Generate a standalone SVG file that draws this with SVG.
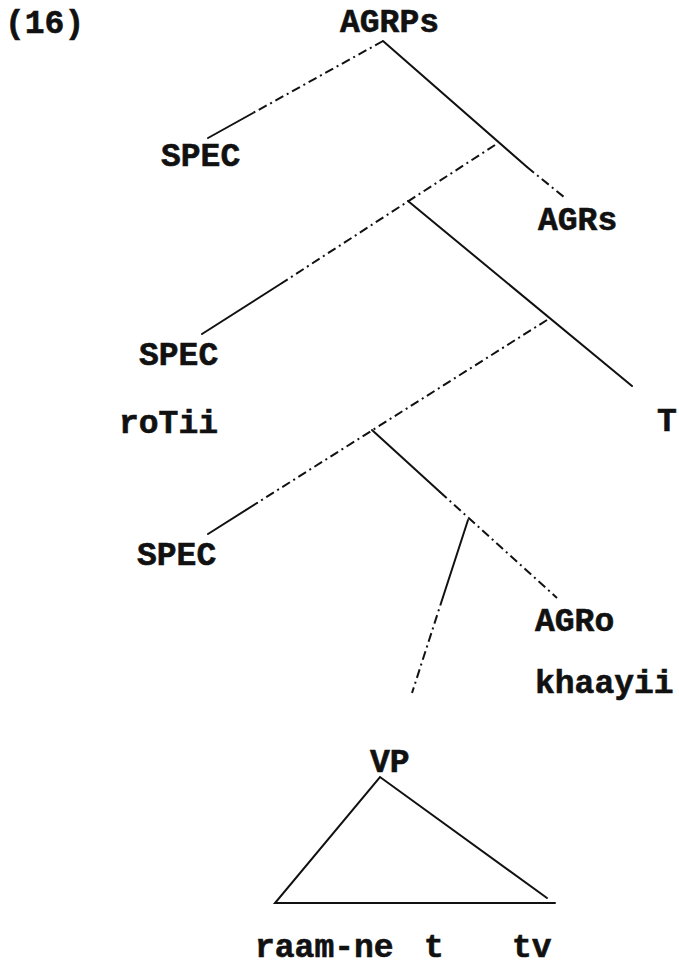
<svg xmlns="http://www.w3.org/2000/svg" width="679" height="967" viewBox="0 0 679 967">
  <style>
    .lbl { font-family: "Liberation Mono", "DejaVu Sans Mono", monospace; font-weight: bold; font-size: 33px; fill: #111; stroke: #111; stroke-width: 0.6; }
    .edge { stroke: #111; stroke-width: 2; fill: none; stroke-linecap: round; }
    .broken { stroke: #111; stroke-width: 2; fill: none; stroke-dasharray: 9 4 2 4; }
  </style>
  <rect width="679" height="967" fill="#fff"/>

  <!-- example number -->
  <text class="lbl" x="5" y="33">(16)</text>

  <!-- tree branches -->
  <g id="connectors">
    <!-- AGRPs -> SPEC -->
    <line class="broken" x1="383" y1="41" x2="253" y2="113"/>
    <line class="edge" x1="253" y1="113" x2="208" y2="138"/>
    <!-- AGRPs -> AGRs -->
    <line class="edge" x1="383" y1="41" x2="527" y2="167"/>
    <line class="broken" x1="527" y1="167" x2="564" y2="197"/>
    <!-- AGRs' -> SPEC (second level) -->
    <line class="broken" x1="495" y1="145" x2="282" y2="283"/>
    <line class="edge" x1="282" y1="283" x2="202" y2="334"/>
    <!-- TP node -> T -->
    <line class="edge" x1="408" y1="201" x2="632" y2="386"/>
    <!-- T' -> SPEC (third level) -->
    <line class="broken" x1="547" y1="320" x2="257" y2="503"/>
    <line class="edge" x1="257" y1="503" x2="208" y2="534"/>
    <!-- AGRoP node -> AGRo -->
    <line class="edge" x1="372" y1="430" x2="440" y2="492"/>
    <line class="broken" x1="440" y1="492" x2="557" y2="598"/>
    <!-- AGRo' -> VP -->
    <line class="edge" x1="468" y1="520" x2="443" y2="597"/>
    <line class="broken" x1="443" y1="597" x2="412" y2="693"/>
  </g>

  <g id="n-agrps"><text class="lbl" x="340" y="32">AGRPs</text></g>
  <g id="n-spec1"><text class="lbl" x="161" y="166">SPEC</text></g>
  <g id="n-agrs"><text class="lbl" x="538" y="230">AGRs</text></g>
  <g id="n-spec2"><text class="lbl" x="139" y="365">SPEC</text></g>
  <g id="n-rotii"><text class="lbl" x="119" y="433">roTii</text></g>
  <g id="n-t"><text class="lbl" x="657" y="431">T</text></g>
  <g id="n-spec3"><text class="lbl" x="137" y="565">SPEC</text></g>
  <g id="n-agro"><text class="lbl" x="535" y="631">AGRo</text></g>
  <g id="n-khaayii"><text class="lbl" x="535" y="693">khaayii</text></g>

  <!-- VP with its collapsed subtree -->
  <g id="n-vp">
    <text class="lbl" x="370" y="772">VP</text>
    <polyline class="edge" points="547,898 380,777 275,903 555,903"/>
  </g>

  <g id="n-terminals">
    <text class="lbl" x="255" y="957">raam-ne</text>
    <text class="lbl" x="424" y="957">t</text>
    <text class="lbl" x="512" y="957">tv</text>
  </g>
</svg>
